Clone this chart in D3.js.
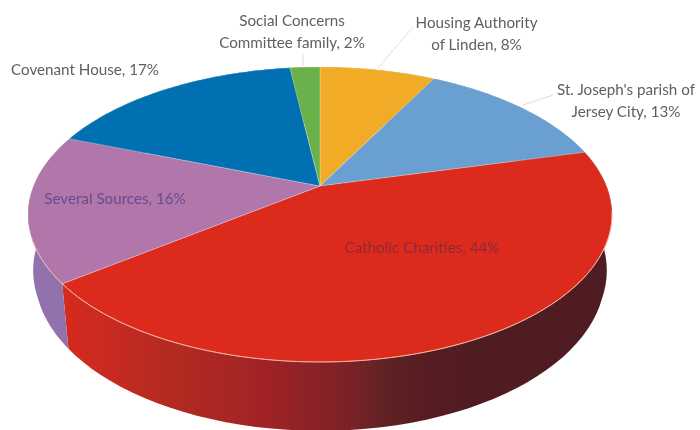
<!DOCTYPE html>
<html>
<head>
<meta charset="utf-8">
<script src="https://cdn.jsdelivr.net/npm/d3@7"></script>
<style>
  html, body { margin: 0; padding: 0; background: #fff; }
  svg { display: block; }
  text { font-family: "Lato", "Open Sans", sans-serif; font-size: 15.2px; }
</style>
</head>
<body>
<svg id="chart" width="700" height="430"></svg>
<script>
// data, clockwise from 12 o'clock
const categories = ['Housing Authority of Linden', "St. Joseph's parish of Jersey City", 'Catholic Charities', 'Several Sources', 'Covenant House', 'Social Concerns Committee family'];
const shares = [7.7, 13.3, 43.6, 16.2, 17.2, 2];
const topColors = ['#f2ab25', '#6b9fd1', '#dc2c1f', '#b177aa', '#0070b2', '#6ab04c'];
const sideColors = ['#b67f1a', '#4f78a0', 'url(#redSide)', '#9272ad', '#005586', '#4f843a'];

// label lines and where they go
const labelLines = [
    ['Housing Authority', 'of Linden, '],
    ["St. Joseph's parish of", 'Jersey City, '],
    ['Catholic Charities, '],
    ['Several Sources, '],
    ['Covenant House, '],
    ['Social Concerns', 'Committee family, ']
];
const labelPos = [[476.5, 24], [626, 91], [422, 249], [115, 200], [85, 71], [292, 22]];
const labelFill = ['#5f5f5f', '#5f5f5f', '#8c2a3a', '#6a4a8c', '#5f5f5f', '#5f5f5f'];
const leaders = [
    [[413, 27], [378, 68]],
    [[553, 95], [523, 105]],
    [[303, 53], [303, 66]]
];

const svg = d3.select('#chart');
const defs = svg.append('defs');

// slightly soft, the reference is a scaled-up bitmap
defs.append('filter').attr('id', 'soft')
    .append('feGaussianBlur').attr('stdDeviation', 0.5);

// red side goes dark from left to right
const redSide = defs.append('linearGradient')
    .attr('id', 'redSide')
    .attr('gradientUnits', 'userSpaceOnUse')
    .attr('x1', 64).attr('x2', 470).attr('y1', 0).attr('y2', 0);
[[0, '#d62c1f'], [0.25, '#b52b22'], [0.5, '#a02326'], [0.7, '#7a2028'], [0.81, '#5c2024'], [1, '#501e20']].forEach(s => {
    redSide.append('stop').attr('offset', s[0]).attr('stop-color', s[1]);
});

// perspective of the disc: the pie centre is not the centre of the ellipse
const cx = 320, cy = 186;
const A = 286.5, B = 142, k = 0.1932;
function topPoint(a) {
    const u = Math.sin(a), v = Math.cos(a), w = 1 + k * v;
    return [cx + A * u / w, cy - B * v / w];
}
// lower rim is the same curve pushed down and a little narrower,
// closer to full width up near the top edge
function bottomPoint(a) {
    const p = topPoint(a);
    const y = 276 + (p[1] - 214.5) * 1.05;
    const t = Math.max(0, Math.min(1, (300 - y) / 60));
    return [cx + (p[0] - cx) * (0.976 + 0.014 * t), y];
}

const pie = d3.pie().sort(null).value(d => d);
const arcs = pie(shares);
const line = d3.line();
const samples = d => d3.range(0, 61).map(i => d.startAngle + (d.endAngle - d.startAngle) * i / 60);

const g = svg.append('g').attr('filter', 'url(#soft)');

// sides first, the tops cover what is behind
g.selectAll('path.side')
    .data(arcs)
    .enter()
    .append('path')
    .attr('class', 'side')
    .attr('d', d => {
        const s = samples(d);
        return line(s.map(topPoint).concat(s.reverse().map(bottomPoint))) + 'Z';
    })
    .attr('fill', (d, i) => sideColors[i]);

// tops
g.selectAll('path.top')
    .data(arcs)
    .enter()
    .append('path')
    .attr('class', 'top')
    .attr('d', d => line([[cx, cy]].concat(samples(d).map(topPoint))) + 'Z')
    .attr('fill', (d, i) => topColors[i])
    .attr('stroke', '#fff')
    .attr('stroke-opacity', 0.25)
    .attr('stroke-width', 1);

// light edge where top meets the front side
const rimStart = 1.75, rimEnd = arcs[3].startAngle + 0.3;
g.append('path')
    .attr('d', line(d3.range(0, 121).map(i => rimStart + (rimEnd - rimStart) * i / 120).map(topPoint)))
    .attr('fill', 'none')
    .attr('stroke', '#f0b0a0')
    .attr('stroke-width', 1);

// leader lines
g.selectAll('path.leader')
    .data(leaders)
    .enter()
    .append('path')
    .attr('class', 'leader')
    .attr('d', line)
    .attr('fill', 'none')
    .attr('stroke', '#f0d8d0')
    .attr('stroke-width', 1);

// labels, percent goes on the last line
const pct = d3.format('.0f');
const labels = svg.append('g').attr('filter', 'url(#soft)');
categories.forEach((c, i) => {
    const lines = labelLines[i];
    const t = labels.append('text')
        .attr('x', labelPos[i][0])
        .attr('y', labelPos[i][1])
        .attr('text-anchor', 'middle')
        .attr('dominant-baseline', 'middle')
        .attr('fill', labelFill[i]);
    lines.forEach((l, j) => {
        t.append('tspan')
            .attr('x', labelPos[i][0])
            .attr('dy', j ? 22 : 0)
            .text(j === lines.length - 1 ? l + pct(shares[i]) + '%' : l);
    });
});
</script>
</body>
</html>
